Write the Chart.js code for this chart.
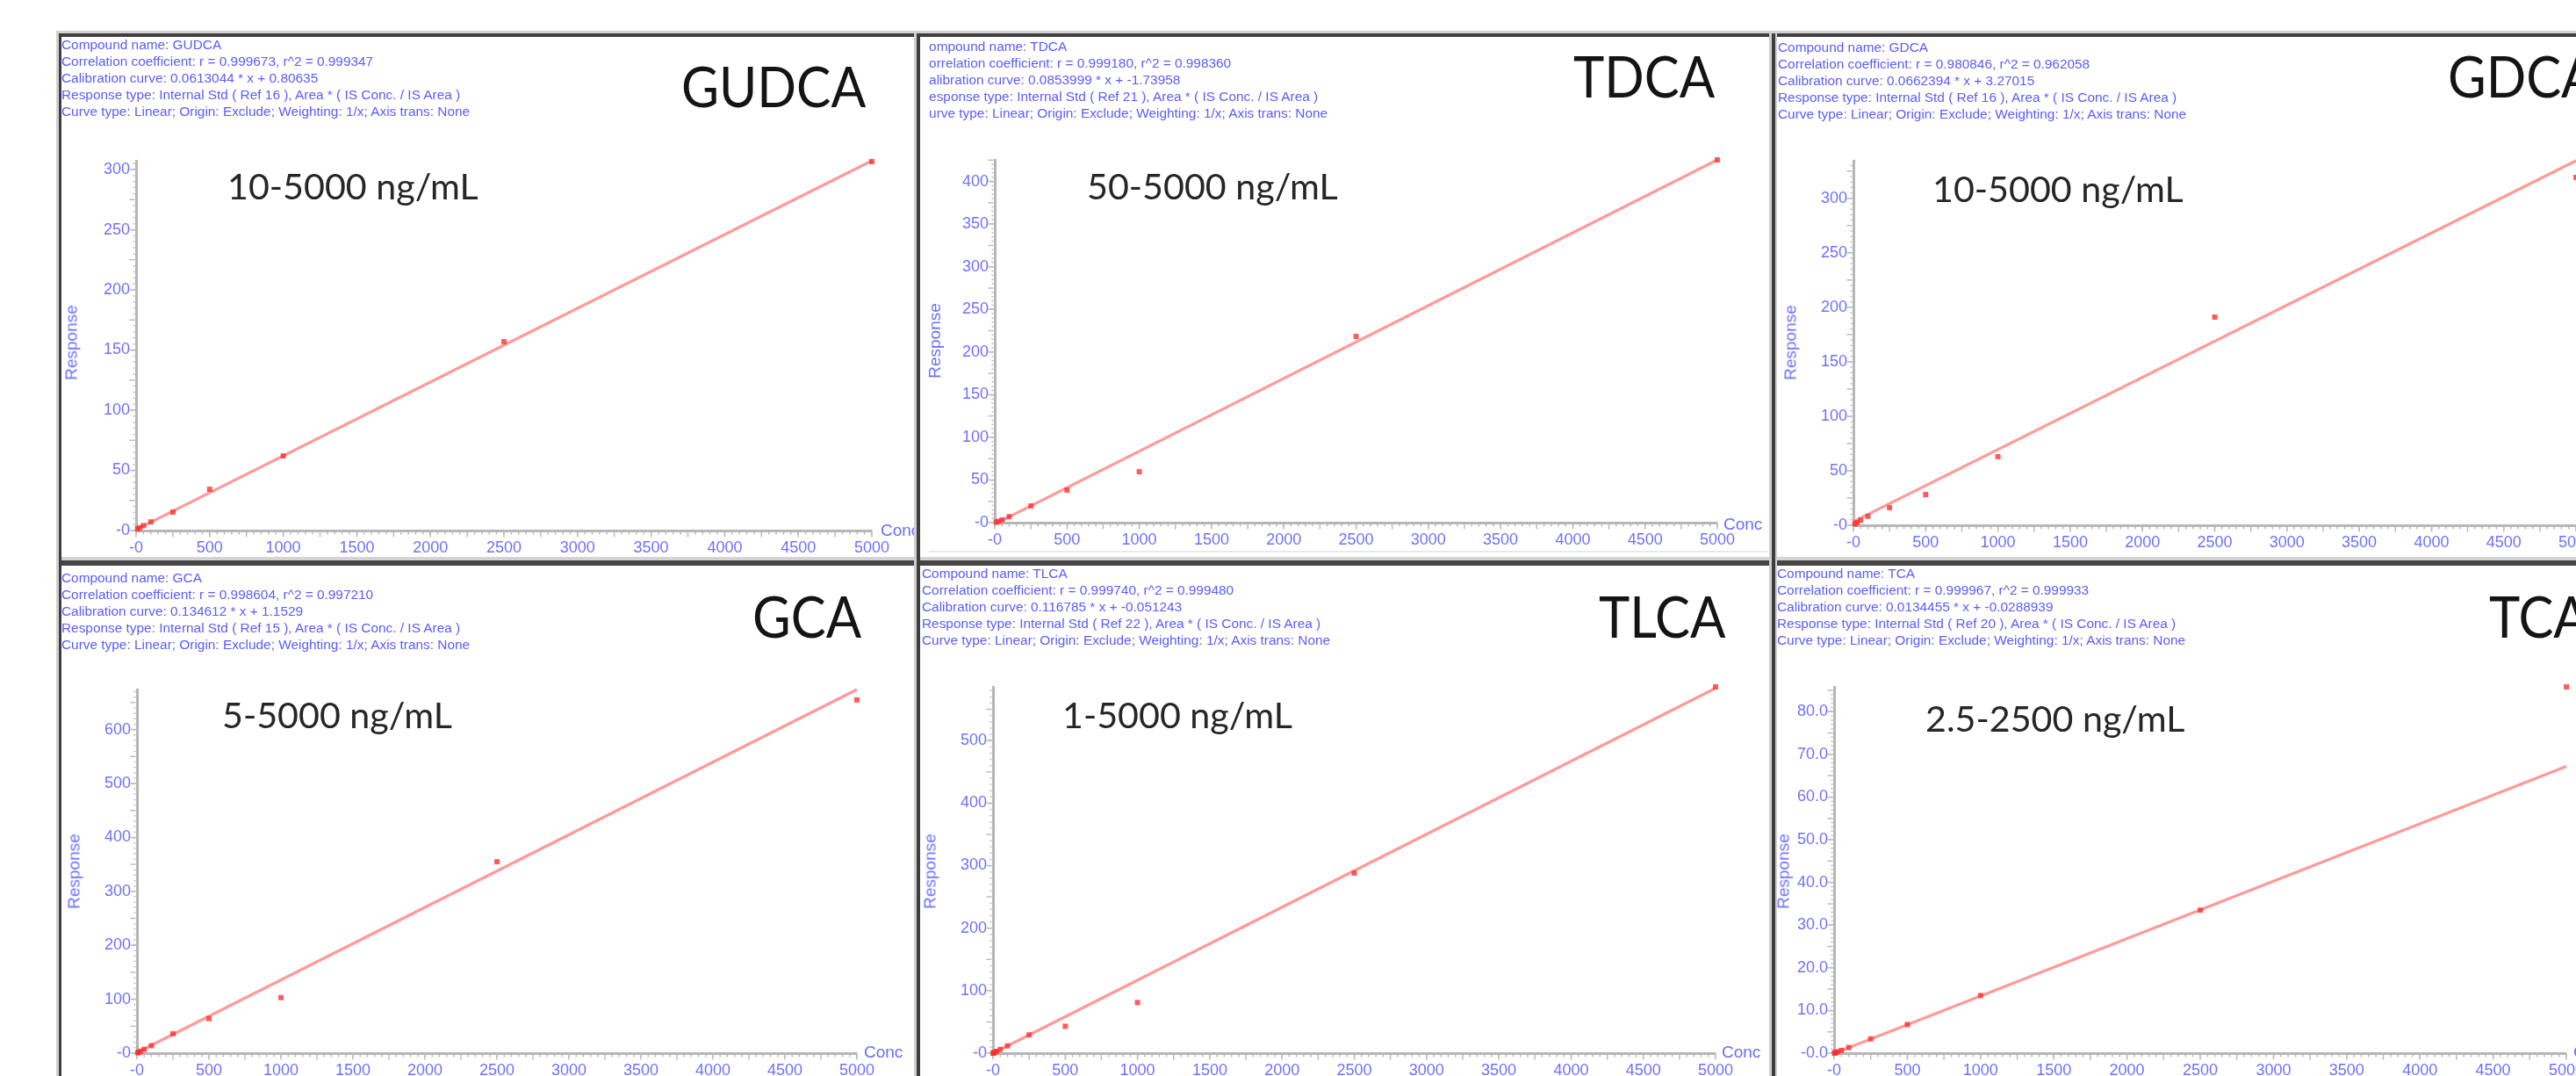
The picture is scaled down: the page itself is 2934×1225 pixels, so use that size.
<!DOCTYPE html>
<html>
<head>
<meta charset="utf-8">
<title>Bile acid calibration curves</title>
<script src="https://cdn.jsdelivr.net/npm/chart.js@4.4.1/dist/chart.umd.min.js"></script>
<style>
  html, body { margin: 0; padding: 0; background: #fff; }
  #sheet { position: relative; width: 2934px; height: 1225px; overflow: hidden; background: #fff; }
  .rule { position: absolute; z-index: 5; }
  .panel { position: absolute; overflow: hidden; background: #fff; }
  .panel canvas { position: absolute; left: 0; top: 0; }
  .hdrclip { position: absolute; overflow: hidden; top: 0; bottom: 0; }
  .hdr { position: absolute; font-family: "Liberation Sans", Arial, sans-serif; font-size: 15.4px;
         line-height: 19px; color: #5c5cff; white-space: pre; }
  .title { position: absolute; font-family: Lato, "Open Sans", sans-serif; line-height: 1;
           color: #141414; white-space: pre; transform-origin: 0 0; transform: scaleX(0.92); }
  .range { position: absolute; font-family: Lato, "Open Sans", sans-serif; line-height: 1;
           color: #262626; white-space: pre; transform-origin: 0 0; transform: scaleX(1.03); }
  .axt { position: absolute; font-family: "Liberation Sans", Arial, sans-serif; font-size: 19px;
         line-height: 1; color: #6c6cff; white-space: pre; }
</style>
</head>
<body>
<div id="sheet"></div>
<script>
// ---------------- data ----------------
const xTickValues = [0, 500, 1000, 1500, 2000, 2500, 3000, 3500, 4000, 4500, 5000];

// GUDCA
const gudcaConc = [10, 25, 50, 100, 250, 500, 1000, 2500, 5000];
const gudcaResp = [1.4, 2.3, 4.1, 7.2, 15.3, 34.3, 62.0, 157.0, 306.6];
const gudcaYTicks = [0, 50, 100, 150, 200, 250, 300];
const gudcaSlope = 0.0613044, gudcaIntercept = 0.80635;

// TDCA
const tdcaConc = [10, 25, 50, 100, 250, 500, 1000, 2500, 5000];
const tdcaResp = [0.6, 1.5, 3.2, 7.0, 19.6, 38.1, 59.7, 218.3, 425.3];
const tdcaYTicks = [0, 50, 100, 150, 200, 250, 300, 350, 400];
const tdcaSlope = 0.0853999, tdcaIntercept = -1.73958;

// GDCA
const gdcaConc = [10, 25, 50, 100, 250, 500, 1000, 2500, 5000];
const gdcaResp = [1.3, 2.4, 4.6, 8.2, 16.1, 28.2, 62.9, 191.0, 319.2];
const gdcaYTicks = [0, 50, 100, 150, 200, 250, 300];
const gdcaSlope = 0.0662394, gdcaIntercept = 3.27015;

// GCA
const gcaConc = [5, 10, 25, 50, 100, 250, 500, 1000, 2500, 5000];
const gcaResp = [0.8, 1.5, 3.6, 7.0, 13.8, 36.0, 64.0, 103.0, 355.0, 655.0];
const gcaYTicks = [0, 100, 200, 300, 400, 500, 600];
const gcaSlope = 0.134612, gcaIntercept = 1.1529;

// TLCA
const tlcaConc = [1, 2.5, 5, 10, 25, 50, 100, 250, 500, 1000, 2500, 5000];
const tlcaResp = [0.1, 0.3, 0.6, 1.2, 2.9, 5.9, 11.6, 29.3, 43.0, 81.0, 288.0, 586.0];
const tlcaYTicks = [0, 100, 200, 300, 400, 500];
const tlcaSlope = 0.116785, tlcaIntercept = -0.051243;

// TCA
const tcaConc = [2.5, 5, 10, 25, 50, 100, 250, 500, 1000, 2500, 5000];
const tcaResp = [0.03, 0.07, 0.13, 0.34, 0.66, 1.33, 3.35, 6.7, 13.5, 33.5, 85.8];
const tcaYTicks = [0, 10, 20, 30, 40, 50, 60, 70, 80];
const tcaSlope = 0.0134455, tcaIntercept = -0.0288939;

const compounds = [
  { name: 'GUDCA', conc: gudcaConc, resp: gudcaResp, yTicks: gudcaYTicks, slope: gudcaSlope, intercept: gudcaIntercept,
    r: '0.999673', r2: '0.999347', ref: 16, range: '10-5000 ng/mL', decimals: 0 },
  { name: 'TDCA', conc: tdcaConc, resp: tdcaResp, yTicks: tdcaYTicks, slope: tdcaSlope, intercept: tdcaIntercept,
    r: '0.999180', r2: '0.998360', ref: 21, range: '50-5000 ng/mL', decimals: 0 },
  { name: 'GDCA', conc: gdcaConc, resp: gdcaResp, yTicks: gdcaYTicks, slope: gdcaSlope, intercept: gdcaIntercept,
    r: '0.980846', r2: '0.962058', ref: 16, range: '10-5000 ng/mL', decimals: 0 },
  { name: 'GCA', conc: gcaConc, resp: gcaResp, yTicks: gcaYTicks, slope: gcaSlope, intercept: gcaIntercept,
    r: '0.998604', r2: '0.997210', ref: 15, range: '5-5000 ng/mL', decimals: 0 },
  { name: 'TLCA', conc: tlcaConc, resp: tlcaResp, yTicks: tlcaYTicks, slope: tlcaSlope, intercept: tlcaIntercept,
    r: '0.999740', r2: '0.999480', ref: 22, range: '1-5000 ng/mL', decimals: 0 },
  { name: 'TCA', conc: tcaConc, resp: tcaResp, yTicks: tcaYTicks, slope: tcaSlope, intercept: tcaIntercept,
    r: '0.999967', r2: '0.999933', ref: 20, range: '2.5-2500 ng/mL', decimals: 1 }
];

// ---------------- layout (page pixels) ----------------
// box: [left, top, right, bottom]   plot: [x=0 px, x=max px, y=max px, y=0 px]
const panelLayout = [
  { box: [70, 42, 1044, 634],    plot: [155, 993, 183, 604],    hdr: [70, 40.7],    hdrClip: null,
    title: [776, 77, 64],  range: [259, 199, 40],  resp: [81, 390],    conc: [1003, 603] },
  { box: [1048, 42, 2018, 634],  plot: [1133, 1956, 182, 595],  hdr: [1047, 42.7],  hdrClip: 1058,
    title: [1792, 65, 65], range: [1238, 199, 40], resp: [1064, 388],  conc: [1963, 596] },
  { box: [2024, 42, 2934, 634],  plot: [2111, 2934, 183, 598],  hdr: [2025, 43.7],  hdrClip: null,
    title: [2788, 65, 65], range: [2201, 202, 40], resp: [2039, 390],  conc: [2942, 599] },
  { box: [70, 644, 1044, 1225],  plot: [156, 976, 785, 1199],   hdr: [70, 647.7],   hdrClip: null,
    title: [857, 680, 65], range: [253, 801, 40],  resp: [84, 992],    conc: [984, 1197] },
  { box: [1048, 644, 2018, 1225],plot: [1131, 1954, 782, 1199], hdr: [1050, 642.7], hdrClip: null,
    title: [1821, 680, 65], range: [1210, 801, 40], resp: [1059, 992], conc: [1961, 1197] },
  { box: [2024, 644, 2934, 1225],plot: [2089, 2923, 782, 1199], hdr: [2024, 642.7], hdrClip: null,
    title: [2835, 680, 65], range: [2193, 805, 40], resp: [2031, 992], conc: [2931, 1197] }
];

// frame lines between the screenshots: [x, y, w, h, colour]
const frameRules = [
  [64, 35, 2870, 3, '#d2d2d2'], [64, 38, 2870, 4, '#3e3e3e'],
  [64, 634, 2870, 4, '#d4d4d4'], [64, 638, 2870, 6, '#454545'],
  [64, 35, 3, 1190, '#d0d0d0'], [67, 38, 3, 1187, '#3e3e3e'],
  [1041, 38, 3, 1187, '#d0d0d0'], [1044, 38, 4, 1187, '#3e3e3e'],
  [2015, 38, 3, 1187, '#d0d0d0'], [2018, 38, 4, 1187, '#3e3e3e'], [2022, 38, 2, 1187, '#d0d0d0'],
  [1058, 627, 955, 2, '#e6e9f2']
];

const TICK_BLUE = '#7070ff';
const TICK_FONT = { family: "'Liberation Sans', Arial, sans-serif", size: 18 };
const LATO_CAP_TOP = 0.1705;   // cap top offset (em) inside a line-height:1 box

const sheet = document.getElementById('sheet');

function addDiv(parent, cls, css, text) {
  const d = document.createElement('div');
  if (cls) d.className = cls;
  Object.assign(d.style, css);
  if (text !== undefined) d.textContent = text;
  parent.appendChild(d);
  return d;
}

function headerLines(c) {
  return [
    `Compound name: ${c.name}`,
    `Correlation coefficient: r = ${c.r}, r^2 = ${c.r2}`,
    `Calibration curve: ${c.slope} * x + ${c.intercept}`,
    `Response type: Internal Std ( Ref ${c.ref} ), Area * ( IS Conc. / IS Area )`,
    `Curve type: Linear; Origin: Exclude; Weighting: 1/x; Axis trans: None`
  ].join('\n');
}

// small unlabelled ticks along both axes
const axisTicks = {
  id: 'axisTicks',
  beforeDatasetsDraw(chart, args, opts) {
    const { ctx, scales: { x, y } } = chart;
    const x0 = x.getPixelForValue(0), y0 = y.getPixelForValue(0);
    ctx.save();
    ctx.strokeStyle = '#bcbcbc';
    ctx.lineWidth = 1.5;
    ctx.beginPath();
    const xSteps = Math.round(x.max / 50);
    for (let i = 0; i <= xSteps; i++) {
      const px = x.getPixelForValue(i * 50);
      const len = i % 5 === 0 ? 6 : 3;
      ctx.moveTo(px, y0 + 1.5); ctx.lineTo(px, y0 + 1.5 + len);
    }
    const minor = opts.step / 10;
    const ySteps = Math.floor(y.max / minor + 1e-6);
    for (let i = 0; i <= ySteps; i++) {
      const py = y.getPixelForValue(i * minor);
      const len = i % 5 === 0 ? 6 : 2;
      ctx.moveTo(x0 - 1.5, py); ctx.lineTo(x0 - 1.5 - len, py);
    }
    ctx.stroke();
    ctx.restore();
  }
};

frameRules.forEach(([x, y, w, h, col]) => {
  addDiv(sheet, 'rule', { left: x + 'px', top: y + 'px', width: w + 'px', height: h + 'px', background: col });
});

compounds.forEach((c, i) => {
  const L = panelLayout[i];
  const [bl, bt, br, bb] = L.box;
  const [pl, pr, pt, pb] = L.plot;
  const panel = addDiv(sheet, 'panel', { left: bl + 'px', top: bt + 'px', width: (br - bl) + 'px', height: (bb - bt) + 'px' });

  // ---- chart ----
  const padRight = 70, bottomBand = 44;
  const cw = pr - bl + padRight, ch = pb - bt + bottomBand;
  const canvas = document.createElement('canvas');
  canvas.width = cw; canvas.height = ch;
  canvas.style.width = cw + 'px'; canvas.style.height = ch + 'px';
  panel.appendChild(canvas);

  const xMax = xTickValues[xTickValues.length - 1];
  const fitEnd = c.slope * xMax + c.intercept;
  const yMax = Math.max(fitEnd, ...c.resp);
  const yStep = c.yTicks[1] - c.yTicks[0];
  const zeroLabel = c.decimals ? '-' + (0).toFixed(c.decimals) : '-0';

  new Chart(canvas, {
    type: 'scatter',
    data: {
      datasets: [
        {
          data: c.conc.map((v, k) => ({ x: v, y: c.resp[k] })),
          pointStyle: 'rect', pointRadius: 4.2, pointHoverRadius: 4.2,
          backgroundColor: 'rgba(255,45,45,0.78)', borderWidth: 0,
          order: 0, clip: 12
        },
        {
          type: 'line',
          data: [{ x: 0, y: c.intercept }, { x: xMax, y: fitEnd }],
          borderColor: 'rgba(255,125,125,0.78)', borderWidth: 3.2, pointRadius: 0,
          fill: false, order: 1, clip: 6
        }
      ]
    },
    options: {
      responsive: false, animation: false, devicePixelRatio: 1, events: [],
      layout: { padding: { left: 0, top: pt - bt, right: padRight, bottom: 0 } },
      plugins: { legend: { display: false }, tooltip: { enabled: false }, axisTicks: { step: yStep } },
      scales: {
        x: {
          type: 'linear', position: 'bottom', min: 0, max: xMax,
          afterBuildTicks: s => { s.ticks = xTickValues.map(v => ({ value: v })); },
          afterFit: s => { s.height = bottomBand; },
          ticks: { color: TICK_BLUE, font: TICK_FONT, padding: 4, maxRotation: 0, autoSkip: false,
                   callback: v => (v === 0 ? '-0' : String(v)) },
          grid: { drawOnChartArea: false, drawTicks: true, tickLength: 5, color: '#c0c0c0', lineWidth: 1.5 },
          border: { display: true, color: '#b6b6b6', width: 3 }
        },
        y: {
          type: 'linear', position: 'left', min: 0, max: yMax,
          afterBuildTicks: s => { s.ticks = c.yTicks.map(v => ({ value: v })); },
          afterFit: s => { s.width = pl - bl; },
          ticks: { color: TICK_BLUE, font: TICK_FONT, padding: 2, autoSkip: false,
                   callback: v => (v === 0 ? zeroLabel : v.toFixed(c.decimals)) },
          grid: { drawOnChartArea: false, drawTicks: true, tickLength: 5, color: '#c0c0c0', lineWidth: 1.5 },
          border: { display: true, color: '#b6b6b6', width: 3 }
        }
      }
    },
    plugins: [axisTicks]
  });

  // ---- header block ----
  let hdrParent = panel;
  let hx = L.hdr[0] - bl;
  if (L.hdrClip !== null) {
    hdrParent = addDiv(panel, 'hdrclip', { left: (L.hdrClip - bl) + 'px', right: '0px' });
    hx = L.hdr[0] - L.hdrClip;
  }
  addDiv(hdrParent, 'hdr', { left: hx + 'px', top: (L.hdr[1] - bt) + 'px' }, headerLines(c));

  // ---- compound title and range ----
  const [tx, tcap, tfs] = L.title;
  addDiv(panel, 'title', { left: (tx - bl) + 'px', top: (tcap - LATO_CAP_TOP * tfs - bt) + 'px', fontSize: tfs + 'px' }, c.name);
  const [rx, rcap, rfs] = L.range;
  addDiv(panel, 'range', { left: (rx - bl) + 'px', top: (rcap - LATO_CAP_TOP * rfs - bt) + 'px', fontSize: rfs + 'px' }, c.range);

  // ---- axis titles ----
  addDiv(panel, 'axt', { left: (L.resp[0] - bl) + 'px', top: (L.resp[1] - bt) + 'px',
                         transform: 'translate(-50%, -50%) rotate(-90deg)' }, 'Response');
  addDiv(panel, 'axt', { left: (L.conc[0] - bl) + 'px', top: (L.conc[1] - 9.3 - bt) + 'px' }, 'Conc');
});
</script>
</body>
</html>
